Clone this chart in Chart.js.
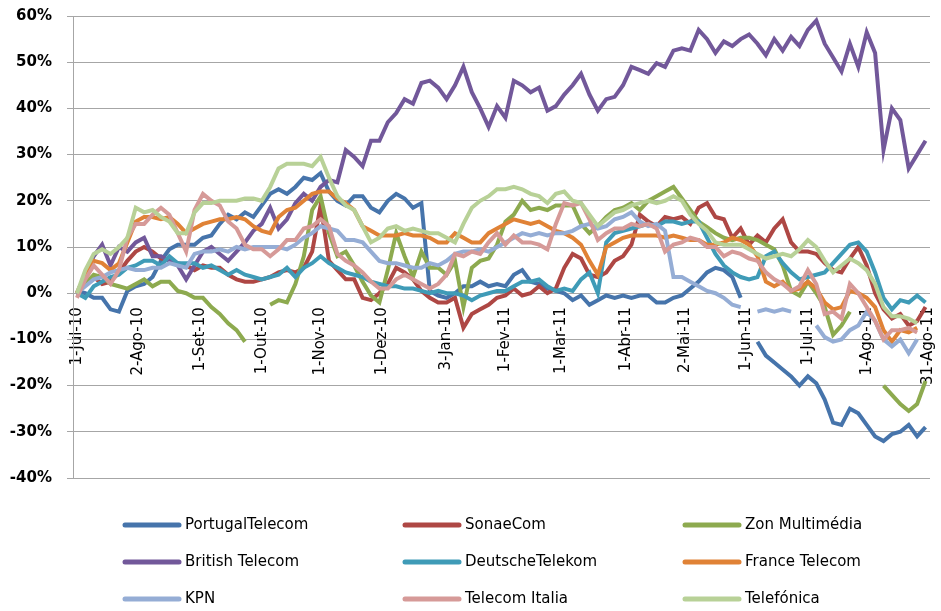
<!DOCTYPE html>
<html>
<head>
<meta charset="utf-8">
<title>Telecom returns</title>
<script src="https://cdn.jsdelivr.net/npm/chart.js@4.4.1/dist/chart.umd.min.js"></script>
<style>
  html, body { margin: 0; padding: 0; background: #fff; }
  canvas { display: block; }
</style>
</head>
<body>
<canvas id="returnsChart" width="941" height="611"></canvas>
<script>
// one value every 3 trading days, starting 1-Jul-10 (trading-day index 0)
const STEP = 3;

// month-start trading-day indices and their labels
const tickIndex = [0, 22, 44, 66, 87, 109, 132, 153, 173, 196, 217, 239, 261, 282, 304];
const tickLabels = ['1-Jul-10', '2-Ago-10', '1-Set-10', '1-Out-10', '1-Nov-10', '1-Dez-10', '3-Jan-11',
  '1-Fev-11', '1-Mar-11', '1-Abr-11', '2-Mai-11', '1-Jun-11', '1-Jul-11', '1-Ago-11', '31-Ago-11'];

const seriesNames = ['PortugalTelecom', 'SonaeCom', 'Zon Multimédia', 'British Telecom', 'DeutscheTelekom',
  'France Telecom', 'KPN', 'Telecom Italia', 'Telefónica'];
const seriesColors = ['#4674AB', '#AE4744', '#8DAA4F', '#72589A', '#3F9BB7', '#E08236', '#95ADD5', '#D69A98', '#B8D197'];

// cumulative return, %
const portugalTelecom = [
  0.5, 0, -1, -1, -3.5, -4, 0.5, 1.5, 2, 3.5,
  7, 9.5, 10.5, 10.5, 10.5, 12, 12.5, 15, 17, 16,
  17.5, 16.5, 19, 21.5, 22.5, 21.5, 23, 25, 24.5, 26,
  22, 20, 19, 21, 21, 18.5, 17.5, 20, 21.5, 20.5,
  18.5, 19.5, 0.5, -0.5, -1, 0, 1.5, 1.5, 2.5, 1.5,
  2, 1.5, 4, 5, 2.5, 2, 1, 0.5, 0, -1.5,
  -0.5, -2.5, -1.5, -0.5, -1, -0.5, -1, -0.5, -0.5, -2,
  -2, -1, -0.5, 1, 2.5, 4.5, 5.5, 5, 3.5, -1,
  null, -10.5, -13.5, -15, -16.5, -18, -20, -18, -19.5, -23,
  -28, -28.5, -25, -26, -28.5, -31, -32, -30.5, -30, -28.5,
  -31, -29
];
const sonaeCom = [
  0, 2.5, 3.5, 2, 2.5, 4.5, 7, 9, 10, 9,
  7.5, 7, 6.5, 6, 5, 6, 5.5, 5.5, 4, 3,
  2.5, 2.5, 3, 3.5, 4.5, 5, 4.5, 5.5, 9, 19,
  7, 5, 3, 3, -1, -1.5, 0, 2, 5.5, 4.5,
  3, 0.5, -1, -2, -2, -1, -7.5, -4.5, -3.5, -2.5,
  -1, -0.5, 1, -0.5, 0, 1.5, 0, 1, 5.5, 8.5,
  7.5, 4, 3.5, 4.5, 7, 8, 10.5, 17, 15.5, 14.5,
  16.5, 16, 16.5, 15, 18.5, 19.5, 16.5, 16, 12, 14,
  10.5, 12.5, 11, 14, 16, 11, 9, 9, 8.5, 6.5,
  5, 4.5, 7.5, 10, 6, 0, -3.5, -5.5, -4.5, -7,
  -6, -3
];
const zonMultimedia = [
  0, 2, 4, 3.5, 2, 1.5, 1, 2, 3, 1.5,
  2.5, 2.5, 0.5, 0, -1, -1, -3, -4.5, -6.5, -8,
  -10.5, null, null, -2.5, -1.5, -2, 2, 8, 18, 21,
  13, 8, 9, 6, 2.5, -0.5, -2, 5, 13, 8,
  3.5, 9, 5.5, 5.5, 4, 7, -3, 5.5, 7, 7.5,
  10.5, 15.5, 17, 20, 18, 18.5, 18, 19, 19, 19,
  15, 13, 14.5, 16.5, 18, 18.5, 19.5, 18, 20, 21,
  22, 23, 20.5, 18, 15.5, 14.3, 13, 12, 11.5, 12,
  12, 11.5, 10.5, 9.5, 6, 0.5, -0.5, 2.5, 0, -3,
  -9, -7, -4, null, null, null, -20, -22, -24, -25.5,
  -24, -19
];
const britishTelecom = [
  0, 4, 8, 10.5, 6, 10, 9, 11, 12, 8,
  8, 7, 6, 3, 6, 9, 10, 8.5, 7, 9,
  11, 13.5, 15, 18.5, 14, 16, 19.5, 21.5, 20, 23,
  24.5, 24, 31, 29.5, 27.5, 33, 33, 37, 39, 42,
  41, 45.5, 46, 44.5, 42, 45, 49, 43.5, 40, 36,
  40.5, 38, 46, 45, 43.5, 44.5, 39.5, 40.5, 43, 45,
  47.5, 43, 39.5, 42, 42.5, 45, 49, 48.3, 47.5, 49.8,
  49, 52.5, 53, 52.5, 57, 55, 52, 54.5, 53.5, 55,
  56, 54, 51.5, 55, 52.5, 55.5, 53.5, 57, 59, 54,
  51, 48, 54, 49, 56.5, 52, 31, 40, 37.5, 27,
  30, 33
];
const deutscheTelekom = [
  0, -1, 1.5, 2.5, 3.5, 4, 5.5, 6, 7, 7,
  6, 8, 6.5, 6.5, 6.5, 5.5, 6, 5, 4, 5,
  4, 3.5, 3, 3.5, 4, 5.5, 3.5, 5.5, 6.5, 8,
  6.5, 5.5, 4.5, 4, 3.5, 2.5, 2, 1.5, 1.5, 1,
  1, 0.5, 0, 0.5, 0, 0, -0.5, -1.5, -0.5, 0,
  0.5, 0.5, 1.5, 2.5, 2.5, 3, 1.5, 0.5, 1, 0.5,
  3, 4.5, 0, 11, 13, 13.5, 14, 14.5, 15, 14.5,
  15.5, 15.5, 15, 15.5, 15.5, 12, 8.5, 6, 4.5, 3.5,
  3, 3.5, 8, 9, 6.5, 4.5, 3, 3.5, 4, 4.5,
  6.5, 8.5, 10.5, 11, 9, 4.5, -1, -3.5, -1.5, -2,
  -0.5, -2
];
const franceTelecom = [
  0, 4, 7, 6.5, 5, 6.5, 11, 15.5, 16.5, 16.5,
  16, 16.5, 15, 13, 14, 15, 15.5, 16, 16, 16.5,
  16, 14.5, 13.5, 13, 16.5, 18, 18.5, 20, 21.5, 22,
  22, 20.5, 19.5, 18, 14.5, 13.5, 12.5, 12.5, 12.5, 13,
  12.5, 12.5, 12, 11, 11, 13, 12, 11, 11, 13,
  14, 15, 16, 15.5, 15, 15.5, 14.5, 13.5, 13, 12,
  10.5, 7, 4, 10, 11, 12, 12.5, 12.5, 12.5, 12.5,
  12, 12.5, 12, 11.5, 11.5, 10.5, 10.5, 11, 12, 11.5,
  10.5, 8, 2.5, 1.5, 2.5, 0.5, 1, 2.5, 1, -2,
  -3.5, -3, 0.5, 0, -1, -3, -8, -10.5, -8, -8.5,
  -7.5, null
];
const kpn = [
  0, 1.5, 3, 3.5, 4.5, 5, 5.5, 5, 5, 5.5,
  5.5, 6.5, 6, 5.5, 8.5, 9, 9, 9.5, 9, 10,
  9.5, 10, 10, 10, 10, 9.5, 10.5, 12, 13, 14.5,
  14, 13.5, 11.5, 11.5, 11, 9, 7, 6.5, 6.5, 6,
  5.5, 5.5, 6.5, 6, 7, 8.5, 9, 9, 9.5, 9,
  10, 11, 12, 13, 12.5, 13, 12.5, 13, 13, 13.5,
  14.5, 15, 14, 14.5, 16, 16.5, 17.5, 15.5, 14.5, 15,
  13.5, 3.5, 3.5, 2.5, 1.5, 0.5, 0, -1, -2.5, -3,
  null, -4, -3.5, -4, -3.5, -4, null, null, -7, -9.5,
  -10.5, -10, -8, -7, -4, -6, -10, -11.5, -10, -13,
  -10, null
];
const telecomItalia = [
  -1, 3, 6, 4, 2, 5, 12, 15, 15, 17,
  18.5, 17, 13, 9, 18, 21.5, 20, 19, 15.5, 14,
  10.5, 9.5, 9.5, 8, 9.5, 11.5, 11.5, 14, 14.5, 16,
  14.5, 8.5, 7, 6, 4.5, 2.5, 1, 1, 3, 4,
  3, 2, 1, 2, 4, 8.5, 8, 9, 8.5, 11,
  13, 10.5, 12.5, 11, 11, 10.5, 9.5, 15, 19.5, 19,
  19.5, 16, 11.5, 13, 14, 14, 15, 14.5, 15, 14,
  9, 10.5, 11, 12, 11.5, 10, 10, 8, 9, 8.5,
  7.5, 7, 4.5, 3, 2, 0.5, 1.5, 5, 2, -4.5,
  -4, -5.5, 2, 0, -3, -6, -10, -8, -8, -7.5,
  -8.5, null
];
const telefonica = [
  0, 5, 8.5, 9.5, 8.5, 10, 12, 18.5, 17.5, 18,
  16.5, 15.5, 13, 13, 17.5, 19.5, 19.5, 20, 20, 20,
  20.5, 20.5, 20, 23, 27, 28, 28, 28, 27.5, 29.5,
  25, 21, 19, 18, 14.5, 11, 12, 14, 14.5, 13.5,
  14, 13.5, 13, 13, 12, 11, 15, 18.5, 20, 21,
  22.5, 22.5, 23, 22.5, 21.5, 21, 19.5, 21.5, 22, 20,
  19.5, 17, 14.5, 16, 17.5, 18, 19, 19.5, 20, 19.5,
  20, 21, 20, 17, 15, 13.5, 11, 10.5, 10.5, 10.5,
  9.5, 8.5, 7.5, 8, 8.5, 8, 9.5, 11.5, 10, 7,
  4.5, 6, 7.5, 6.5, 5, 2, -3, -5, -5, -5.5,
  -6.5, null
];

const seriesValues = [portugalTelecom, sonaeCom, zonMultimedia, britishTelecom, deutscheTelekom,
  franceTelecom, kpn, telecomItalia, telefonica];

const datasets = seriesValues.map((vals, i) => ({
  label: seriesNames[i],
  data: vals.map((v, k) => ({ x: k * STEP, y: v })),
  borderColor: seriesColors[i],
  backgroundColor: seriesColors[i],
  borderWidth: 4,
  pointRadius: 0,
  tension: 0,
  spanGaps: false,
  order: seriesValues.length - i   // later series drawn on top, like Excel
}));

// legend drawn as a fixed 3x3 grid under the plot
const gridLegend = {
  id: 'gridLegend',
  afterDraw(chart) {
    const ctx = chart.ctx;
    ctx.save();
    ctx.font = '15px "DejaVu Sans"';
    ctx.textBaseline = 'middle';
    ctx.textAlign = 'left';
    chart.data.datasets.forEach((ds, i) => {
      const x = 125 + (i % 3) * 280;
      const y = 525 + Math.floor(i / 3) * 37;
      ctx.strokeStyle = ds.borderColor;
      ctx.lineWidth = 5;
      ctx.lineCap = 'round';
      ctx.beginPath();
      ctx.moveTo(x, y);
      ctx.lineTo(x + 54, y);
      ctx.stroke();
      ctx.fillStyle = '#000';
      ctx.fillText(ds.label, x + 60, y);
    });
    ctx.restore();
  }
};

const whiteBg = {
  id: 'whiteBg',
  beforeDraw(chart) {
    const ctx = chart.ctx;
    ctx.save();
    ctx.fillStyle = '#fff';
    ctx.fillRect(0, 0, chart.width, chart.height);
    ctx.restore();
  }
};

// keep tick-label overflow from shrinking the plot area
const noLabelPadding = scale => {
  scale.paddingLeft = 0;
  scale.paddingRight = 0;
  scale.paddingTop = 0;
  scale.paddingBottom = 0;
};

const ctx = document.getElementById('returnsChart').getContext('2d');

new Chart(ctx, {
  type: 'line',
  data: { datasets },
  options: {
    responsive: false,
    animation: false,
    devicePixelRatio: 1,
    layout: { padding: { left: 0, right: 11, top: 16, bottom: 133 } },
    plugins: {
      legend: { display: false },
      tooltip: { enabled: false }
    },
    scales: {
      x: {
        type: 'linear',
        position: { y: 0 },
        min: -1.4,
        max: 304.6,
        afterBuildTicks: scale => { scale.ticks = tickIndex.map(v => ({ value: v })); },
        afterFit: noLabelPadding,
        grid: { display: false, drawTicks: false },
        border: { display: false },
        ticks: {
          autoSkip: false,
          minRotation: 90,
          maxRotation: 90,
          padding: 14,
          color: '#000',
          font: { family: 'DejaVu Sans', size: 15 },
          callback: (value, index) => tickLabels[index]
        }
      },
      y: {
        min: -40,
        max: 60,
        afterFit: scale => { scale.width = 73; noLabelPadding(scale); },
        grid: { color: '#A6A6A6', lineWidth: 1, tickLength: 6 },
        border: { color: '#A6A6A6' },
        ticks: {
          stepSize: 10,
          padding: 15,
          color: '#000',
          font: { family: 'DejaVu Sans', size: 15, weight: 'bold' },
          callback: v => v + '%'
        }
      }
    }
  },
  plugins: [whiteBg, gridLegend]
});
</script>
</body>
</html>
